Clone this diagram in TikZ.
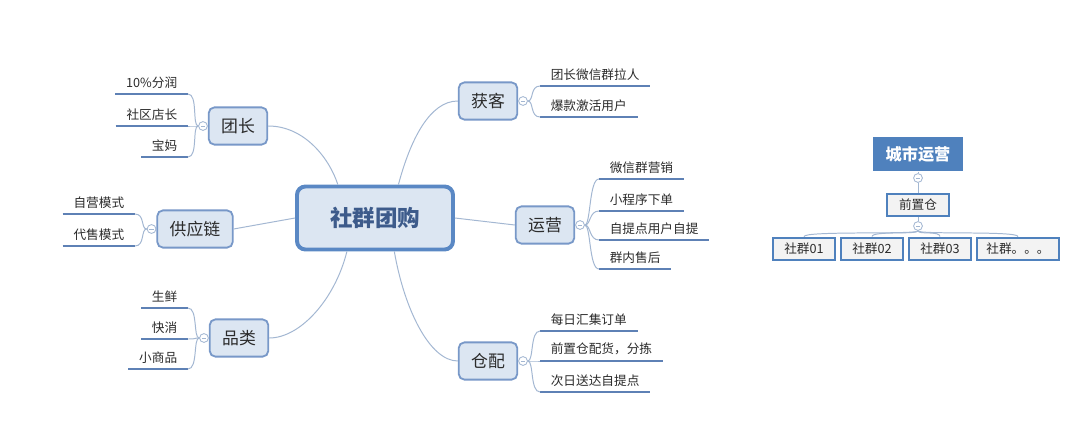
\documentclass[tikz,border=0pt]{standalone}
\usepackage{fontspec}
\setmainfont{Noto Sans CJK SC}
\usetikzlibrary{positioning}
\definecolor{boxfill}{HTML}{DCE6F2}
\definecolor{hubline}{HTML}{5A88C4}
\definecolor{hubtext}{HTML}{3D5B8B}
\definecolor{branchline}{HTML}{7898C8}
\definecolor{leafblue}{HTML}{5E81B5}
\definecolor{connline}{HTML}{A3B7D2}
\definecolor{cityblue}{HTML}{4F81BD}
\definecolor{orgfill}{HTML}{F3F3F3}
\definecolor{textgray}{HTML}{2B2B2B}
\begin{document}
\begin{tikzpicture}[x=0.025cm,y=-0.025cm,
  hub/.style={draw=hubline,line width=2.8pt,fill=boxfill,rounded corners=6pt,minimum width=3.9cm,minimum height=1.575cm,text=hubtext,font=\fontsize{16}{18}\selectfont\bfseries},
  branch/.style={draw=branchline,line width=1.3pt,fill=boxfill,rounded corners=4pt,minimum height=0.93cm,inner xsep=0.31cm,text=textgray,font=\fontsize{12}{14}\selectfont},
  leaf/.style={inner xsep=7.5pt,inner ysep=4pt,text=textgray,font=\fontsize{9}{11}\selectfont},
  leafline/.style={draw=leafblue,line width=2pt},
  conn/.style={draw=connline,line width=0.7pt},
  toggle/.style={circle,draw=connline,fill=white,line width=0.6pt,minimum size=0.22cm,inner sep=0pt,
    path picture={\draw[connline,line width=0.5pt] ([xshift=-1.5pt]path picture bounding box.center) -- ([xshift=1.5pt]path picture bounding box.center);}},
  citybox/.style={fill=cityblue,minimum width=2.25cm,minimum height=0.87cm,text=white,font=\fontsize{11.5}{13}\selectfont\bfseries},
  orgbox/.style={draw=cityblue,line width=2pt,fill=orgfill,minimum height=0.55cm,text=textgray,font=\fontsize{9}{11}\selectfont}]
\path[fill=white,use as bounding box] (0,0) rectangle (1080,429);

\node[hub] (hub) at (375,218) {社群团购};

\node[branch] (tz) at (238,126) {团长};
\node[toggle,left=0pt of tz] (tzt) {};
\node[leaf,anchor=south east] (tz1) at (188,94) {10\%分润};
\node[leaf,anchor=south east] (tz2) at (188,126) {社区店长};
\node[leaf,anchor=south east] (tz3) at (188,157) {宝妈};

\node[branch] (gy) at (195,229) {供应链};
\node[toggle,left=0pt of gy] (gyt) {};
\node[leaf,anchor=south east] (gy1) at (135,214) {自营模式};
\node[leaf,anchor=south east] (gy2) at (135,246) {代售模式};

\node[branch] (pl) at (239,338) {品类};
\node[toggle,left=0pt of pl] (plt) {};
\node[leaf,anchor=south east] (pl1) at (188,308) {生鲜};
\node[leaf,anchor=south east] (pl2) at (188,339) {快消};
\node[leaf,anchor=south east] (pl3) at (188,369) {小商品};

\node[branch] (hk) at (488,101) {获客};
\node[toggle,right=0pt of hk] (hkt) {};
\node[leaf,anchor=south west] (hk1) at (540,86) {团长微信群拉人};
\node[leaf,anchor=south west] (hk2) at (540,117) {爆款激活用户};

\node[branch] (yy) at (545,225) {运营};
\node[toggle,right=0pt of yy] (yyt) {};
\node[leaf,anchor=south west] (yy1) at (599,179) {微信群营销};
\node[leaf,anchor=south west] (yy2) at (599,211) {小程序下单};
\node[leaf,anchor=south west] (yy3) at (599,240) {自提点用户自提};
\node[leaf,anchor=south west] (yy4) at (599,269) {群内售后};

\node[branch] (cp) at (488,361) {仓配};
\node[toggle,right=0pt of cp] (cpt) {};
\node[leaf,anchor=south west] (cp1) at (540,331) {每日汇集订单};
\node[leaf,anchor=south west] (cp2) at (540,361) {前置仓配货，分拣};
\node[leaf,anchor=south west] (cp3) at (540,392) {次日送达自提点};

\draw[conn] (hub.138) .. controls +(-8,-25) and +(37,0) .. (tz.east);
\draw[conn] (hub.west) -- (gy.east);
\draw[conn] (hub.230) .. controls +(-12,48) and +(31,0) .. (pl.east);
\draw[conn] (hub.55) .. controls +(12,-45) and +(-28,0) .. (hk.west);
\draw[conn] (hub.east) -- (yy.west);
\draw[conn] (hub.300) .. controls +(10,58) and +(-28,0) .. (cp.west);

\foreach \n in {tz1,tz2,tz3,gy1,gy2,pl1,pl2,pl3,hk1,hk2,yy1,yy2,yy3,yy4,cp1,cp2,cp3}
  \draw[leafline] (\n.south west) -- (\n.south east);
\foreach \n in {tz1,tz2,tz3}
  \draw[conn] (tzt.west) .. controls +(-6,0) and +(10,0) .. (\n.south east);
\foreach \n in {gy1,gy2}
  \draw[conn] (gyt.west) .. controls +(-6,0) and +(10,0) .. (\n.south east);
\foreach \n in {pl1,pl2,pl3}
  \draw[conn] (plt.west) .. controls +(-6,0) and +(10,0) .. (\n.south east);
\foreach \n in {hk1,hk2}
  \draw[conn] (hkt.east) .. controls +(6,0) and +(-10,0) .. (\n.south west);
\foreach \n in {yy1,yy2,yy3,yy4}
  \draw[conn] (yyt.east) .. controls +(6,0) and +(-10,0) .. (\n.south west);
\foreach \n in {cp1,cp2,cp3}
  \draw[conn] (cpt.east) .. controls +(6,0) and +(-10,0) .. (\n.south west);

\node[citybox] (cs) at (918,154) {城市运营};
\node[toggle] (cst) at (918,178) {};
\node[orgbox,minimum width=1.55cm] (qz) at (918,205) {前置仓};
\node[toggle] (qzt) at (918,226) {};
\node[orgbox,minimum width=1.55cm] (sq1) at (804,249) {社群01};
\node[orgbox,minimum width=1.55cm] (sq2) at (872,249) {社群02};
\node[orgbox,minimum width=1.55cm] (sq3) at (940,249) {社群03};
\node[orgbox,minimum width=2.05cm] (sq4) at (1018,249) {社群。。。};
\draw[conn] (cs.south) -- (cst.north);
\draw[conn] (cst.south) -- (qz.north);
\draw[conn] (qz.south) -- (qzt.north);
\foreach \n in {sq1,sq2,sq3,sq4}
  \draw[conn] (qzt.south) .. controls +(0,4) and +(0,-6) .. (\n.north);
\end{tikzpicture}
\end{document}
